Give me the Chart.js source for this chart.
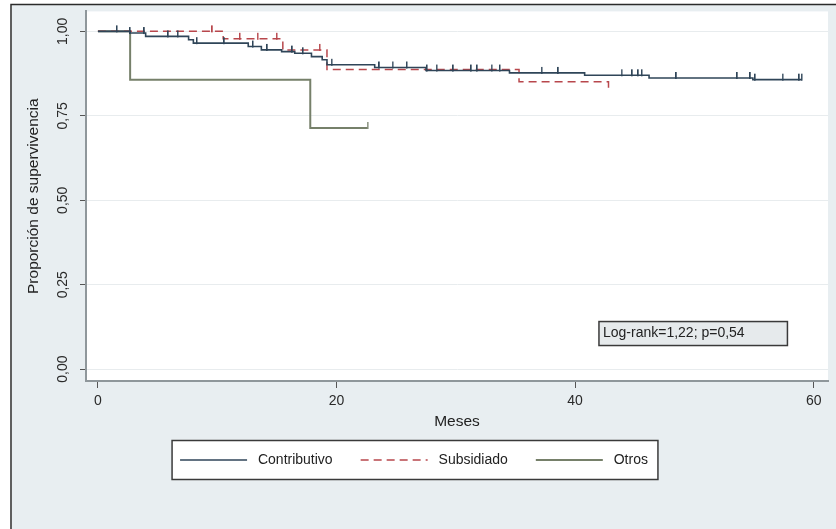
<!DOCTYPE html>
<html>
<head>
<meta charset="utf-8">
<script src="https://cdn.jsdelivr.net/npm/chart.js@4"></script>
<style>
  html, body { margin: 0; padding: 0; background: #fff; }
</style>
</head>
<body>
<canvas id="km" width="836" height="529"></canvas>
<script>
// Kaplan-Meier curves (time in months, survival proportion)
const contribTimes = [0, 2.7, 4.0, 7.6, 8.0, 12.6, 13.7, 15.4, 16.5, 17.9, 18.8, 19.2, 23.2, 27.5, 34.5, 40.8, 46.2, 54.9, 59.0];
const contribSurv  = [1, 0.995, 0.985, 0.975, 0.965, 0.955, 0.945, 0.94, 0.935, 0.925, 0.916, 0.901, 0.893, 0.884, 0.877, 0.870, 0.862, 0.857, 0.857];
const contribCensored = [1.6, 2.7, 3.9, 5.9, 6.7, 8.3, 10.6, 13.0, 14.2, 16.3, 17.2, 19.6, 23.6, 24.7, 25.9, 27.6, 28.4, 29.8, 31.3, 31.8, 33.0, 33.7, 37.2, 38.6, 43.9, 44.8, 45.3, 45.6, 48.5, 53.6, 54.7, 55.1, 57.4, 58.8, 59.0];

const subsTimes = [0, 10.5, 15.5, 19.2, 35.3, 42.8];
const subsSurv  = [1, 0.978, 0.945, 0.887, 0.851, 0.82];
const subsCensored = [9.6, 11.9, 13.4, 15.0, 18.6];

const otrosTimes = [0, 2.7, 17.8, 22.6];
const otrosSurv  = [1, 0.857, 0.714, 0.714];
const otrosCensored = [22.6];

const seriesNames = ['Contributivo', 'Subsidiado', 'Otros'];
const xTicks = [0, 20, 40, 60];
const yTicks = [0, 0.25, 0.5, 0.75, 1];

const colors = ['#2f4558', '#b8474c', '#76806a'];

Chart.defaults.font.family = '"Liberation Sans", Arial, sans-serif';
Chart.defaults.color = '#2a2a2a';

const toPoints = (times, surv) => times.map((t, i) => ({x: t, y: surv[i]}));

const survAt = (times, surv, t) => {
    let v = surv[0];
    for (let i = 0; i < times.length; i++) {
        if (times[i] <= t) v = surv[i];
    }
    return v;
}

// small vertical tick drawn above the curve, used as censoring mark
const makeTick = (color) => {
    const c = document.createElement('canvas');
    c.width = 2; c.height = 16;
    const g = c.getContext('2d');
    g.fillStyle = color;
    g.fillRect(0, 2, 1.5, 7);
    return c;
}

const censorSet = (times, surv, cens, color) => ({
    type: 'scatter',
    data: cens.map(t => ({x: t, y: survAt(times, surv, t)})),
    pointStyle: makeTick(color),
    pointRadius: 3,
    order: 0
});

const backdrop = {
    id: 'backdrop',
    beforeDraw(chart) {
        const {ctx, chartArea: a} = chart;
        ctx.save();
        ctx.fillStyle = '#ffffff';
        ctx.fillRect(0, 0, chart.width, chart.height);
        ctx.fillStyle = '#e8eef1';
        ctx.fillRect(12, 5, chart.width - 12, chart.height - 5);
        ctx.strokeStyle = '#2b2b2b';
        ctx.lineWidth = 1.5;
        ctx.beginPath();
        ctx.moveTo(11, chart.height);
        ctx.lineTo(11, 4.5);
        ctx.lineTo(chart.width, 4.5);
        ctx.stroke();

        ctx.fillStyle = '#ffffff';
        ctx.fillRect(a.left, a.top, a.right - a.left, a.bottom - a.top);

        // frame behind the legend
        const boxes = chart.legend.legendHitBoxes;
        if (boxes && boxes.length) {
            const l = Math.min(...boxes.map(b => b.left)) - 8;
            const r = Math.max(...boxes.map(b => b.left + b.width)) + 10;
            const cy = boxes[0].top + boxes[0].height / 2;
            ctx.fillStyle = '#ffffff';
            ctx.fillRect(l, cy - 19.5, r - l, 39);
            ctx.strokeStyle = '#3a3a3a';
            ctx.lineWidth = 1.5;
            ctx.strokeRect(l, cy - 19.5, r - l, 39);
        }
        ctx.restore();
    },
    afterDraw(chart) {
        const {ctx, scales: {x, y}} = chart;
        const x0 = x.getPixelForValue(42.0), x1 = x.getPixelForValue(57.8);
        const y0 = y.getPixelForValue(0.141), y1 = y.getPixelForValue(0.070);
        ctx.save();
        ctx.fillStyle = '#e6eaec';
        ctx.fillRect(x0, y0, x1 - x0, y1 - y0);
        ctx.strokeStyle = '#3a3a3a';
        ctx.lineWidth = 1.5;
        ctx.strokeRect(x0, y0, x1 - x0, y1 - y0);
        ctx.fillStyle = '#222';
        ctx.font = '14px "Liberation Sans", Arial, sans-serif';
        ctx.textBaseline = 'middle';
        ctx.fillText('Log-rank=1,22; p=0,54', x0 + 4, (y0 + y1) / 2);
        ctx.restore();
    }
};

new Chart(document.getElementById('km'), {
    type: 'line',
    data: {
        datasets: [
            {
                label: seriesNames[0],
                data: toPoints(contribTimes, contribSurv),
                borderColor: colors[0],
                borderWidth: 1.6,
                stepped: true,
                pointRadius: 0,
                order: 1
            },
            {
                label: seriesNames[1],
                data: toPoints(subsTimes, subsSurv),
                borderColor: colors[1],
                borderWidth: 1.5,
                borderDash: [8, 5],
                stepped: true,
                pointRadius: 0,
                order: 1
            },
            {
                label: seriesNames[2],
                data: toPoints(otrosTimes, otrosSurv),
                borderColor: colors[2],
                borderWidth: 2,
                stepped: true,
                pointRadius: 0,
                order: 1
            },
            censorSet(contribTimes, contribSurv, contribCensored, colors[0]),
            censorSet(subsTimes, subsSurv, subsCensored, colors[1]),
            censorSet(otrosTimes, otrosSurv, otrosCensored, colors[2])
        ]
    },
    options: {
        responsive: false,
        animation: false,
        layout: {padding: {left: 0, right: 8, top: 8, bottom: 52}},
        plugins: {
            tooltip: {enabled: false},
            legend: {
                position: 'bottom',
                labels: {
                    usePointStyle: true,
                    pointStyleWidth: 67,
                    padding: 28,
                    font: {size: 14},
                    color: '#222',
                    generateLabels(chart) {
                        const items = Chart.defaults.plugins.legend.labels.generateLabels(chart);
                        return items.filter(it => it.datasetIndex < 3).map(it => {
                            const ds = chart.data.datasets[it.datasetIndex];
                            it.text = ' ' + it.text;
                            it.pointStyle = 'line';
                            it.lineDash = ds.borderDash || [];
                            it.lineWidth = ds.borderWidth;
                            it.strokeStyle = ds.borderColor;
                            return it;
                        });
                    }
                }
            }
        },
        scales: {
            x: {
                type: 'linear',
                min: -1,
                max: 61.2,
                afterBuildTicks: (scale) => { scale.ticks = xTicks.map(v => ({value: v})); },
                afterFit: (scale) => { scale.height = 44; },
                grid: {drawOnChartArea: false, tickLength: 7, tickColor: '#555'},
                border: {color: '#8f979b', width: 2},
                ticks: {font: {size: 14}, padding: 5, color: '#2a2a2a'},
                title: {display: true, text: 'Meses', font: {size: 15.5}, color: '#222', padding: {top: 4, bottom: -6}}
            },
            y: {
                type: 'linear',
                min: -0.035,
                max: 1.059,
                afterBuildTicks: (scale) => { scale.ticks = yTicks.map(v => ({value: v})); },
                afterFit: (scale) => { scale.width = 86; },
                grid: {color: '#e8ecee', tickLength: 6, tickColor: '#555'},
                border: {color: '#8f979b', width: 2},
                ticks: {
                    font: {size: 14},
                    color: '#2a2a2a',
                    minRotation: 90,
                    maxRotation: 90,
                    crossAlign: 'center',
                    padding: 3,
                    callback: (v) => v.toFixed(2).replace('.', ',')
                },
                title: {display: true, text: 'Proporción de supervivencia', font: {size: 15.5}, color: '#222', padding: {top: 24, bottom: 0}}
            }
        }
    },
    plugins: [backdrop]
});
</script>
</body>
</html>
